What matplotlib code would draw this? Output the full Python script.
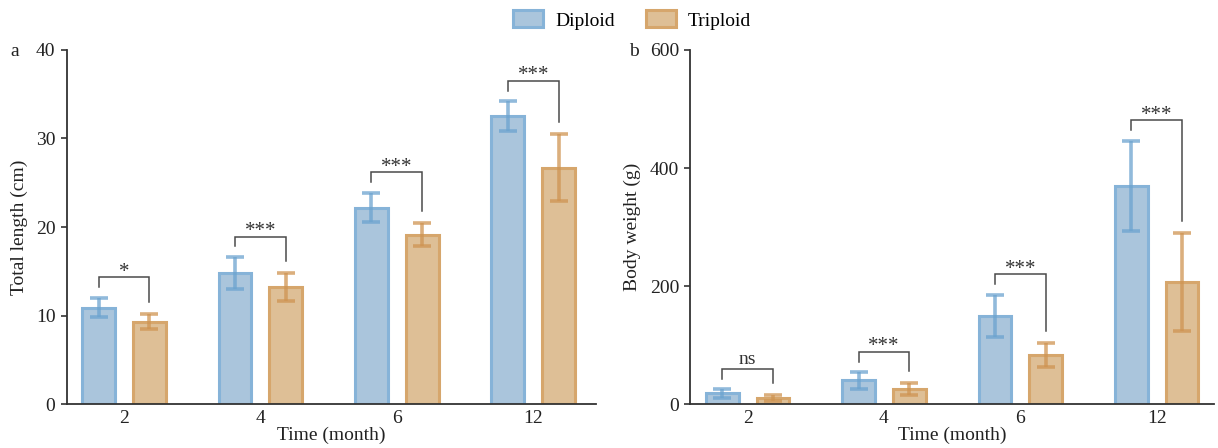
import matplotlib
matplotlib.use("Agg")
import matplotlib.pyplot as plt
from matplotlib.patches import Patch
import numpy as np

plt.rcParams['font.family'] = ['Liberation Serif', 'DejaVu Serif']

months = ['2', '4', '6', '12']
groups = ['Diploid', 'Triploid']

length_dip = [10.9, 14.8, 22.2, 32.5]
length_dip_sd = [1.1, 1.8, 1.65, 1.7]
length_tri = [9.3, 13.2, 19.1, 26.7]
length_tri_sd = [0.85, 1.6, 1.3, 3.8]
length_sig = ['*', '***', '***', '***']

weight_dip = [18, 40, 149, 370]
weight_dip_sd = [7, 14, 36, 76]
weight_tri = [10, 25, 83, 206]
weight_tri_sd = [5, 10, 20, 83]
weight_sig = ['ns', '***', '***', '***']

fill_c = ['#AAC5DC', '#DEBF96']
edge_c = ['#86B3D8', '#D6A66C']
err_c = ['#6CA3CF', '#CF9452']

W, H = 1218, 448
fig = plt.figure(figsize=(W / 100, H / 100), dpi=100)

def panel(rect, dip, dsd, tri, tsd, sig, ymax, yticks, ylabel, xlim_r):
    ax = fig.add_axes(rect)
    x = np.arange(len(months))
    off, bw = 0.186, 0.24
    for i, (vals, sds) in enumerate([(dip, dsd), (tri, tsd)]):
        xs = x + (-off if i == 0 else off)
        ax.bar(xs, vals, width=bw, color=fill_c[i], edgecolor=edge_c[i],
               linewidth=2.2, zorder=2)
        ax.errorbar(xs, vals, yerr=sds, fmt='none', ecolor=err_c[i],
                    elinewidth=2.6, capsize=6.5, capthick=2.6, alpha=0.75, zorder=3)
    for j in range(len(months)):
        ltop = dip[j] + dsd[j] + 0.03 * ymax
        rtop = tri[j] + tsd[j] + 0.035 * ymax
        yb = max(ltop, rtop) + 0.028 * ymax
        xl, xr = x[j] - off, x[j] + off
        ax.plot([xl, xl, xr, xr], [ltop, yb, yb, rtop], color='#4a4a4a',
                lw=1.1, zorder=4, solid_joinstyle='miter')
        if sig[j] == 'ns':
            ax.text(x[j], yb + 0.002 * ymax, sig[j], ha='center', va='bottom',
                    fontsize=14, color='#333333')
        else:
            ax.text(x[j], yb - 0.012 * ymax, sig[j], ha='center', va='bottom',
                    fontsize=15, color='#333333')
    ax.set_xlim(-0.42, xlim_r)
    ax.set_ylim(0, ymax)
    ax.set_yticks(yticks)
    ax.set_xticks(x)
    ax.set_xticklabels(months)
    ax.tick_params(axis='x', length=0, pad=4, labelsize=14, colors='#222222')
    ax.tick_params(axis='y', length=4, width=1.1, pad=4, labelsize=14, colors='#222222')
    for s in ['top', 'right']:
        ax.spines[s].set_visible(False)
    for s in ['left', 'bottom']:
        ax.spines[s].set_color('#333333')
        ax.spines[s].set_linewidth(1.3)
    ax.set_xlabel('Time (month)', fontsize=14, labelpad=0, color='#222222')
    ax.set_ylabel(ylabel, fontsize=14, labelpad=6, color='#222222')
    return ax

b0 = 1 - 404 / H
h = (404 - 50) / H
ax1 = panel([66.6 / W, b0, (596 - 66.6) / W, h], length_dip, length_dip_sd,
            length_tri, length_tri_sd, length_sig, 40, [0, 10, 20, 30, 40],
            'Total length (cm)', 3.46)
ax2 = panel([690.3 / W, b0, (1214 - 690.3) / W, h], weight_dip, weight_dip_sd,
            weight_tri, weight_tri_sd, weight_sig, 600, [0, 200, 400, 600],
            'Body weight (g)', 3.42)

fig.text(15 / W, 1 - 52 / H, 'a', fontsize=14, ha='center', va='center', color='#222222')
fig.text(634 / W, 1 - 52 / H, 'b', fontsize=14, ha='center', va='center', color='#222222')

handles = [Patch(facecolor=fill_c[i], edgecolor=edge_c[i], linewidth=2.2, label=groups[i])
           for i in range(2)]
fig.legend(handles=handles, loc='center', bbox_to_anchor=(632 / W, 1 - 20 / H),
           ncol=2, frameon=False, fontsize=14, handlelength=1.55, handleheight=0.95,
           handletextpad=0.6, columnspacing=1.6, borderpad=0)

fig.savefig('out.png', dpi=100)
